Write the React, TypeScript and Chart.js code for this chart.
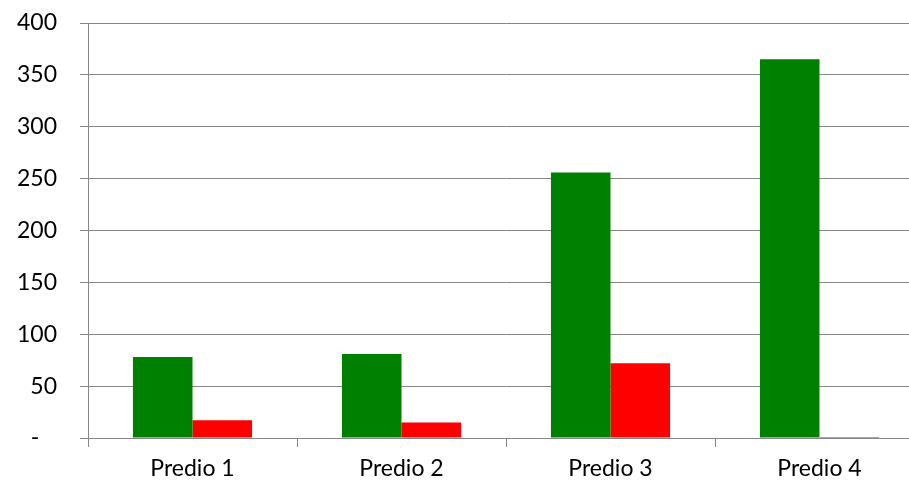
import React, { useEffect, useRef } from "react";
import { Chart, registerables } from "chart.js";

Chart.register(...registerables);

const categories = ["Predio 1", "Predio 2", "Predio 3", "Predio 4"];
const greenValues = [78, 81, 256, 365];
const redValues = [17, 15, 72, 1];
const yTicks = [0, 50, 100, 150, 200, 250, 300, 350, 400];

export default function App() {
  const ref = useRef<HTMLCanvasElement>(null);
  useEffect(() => {
    document.body.style.margin = "0";
    const ctx = ref.current!;
    const chart = new Chart(ctx, {
      type: "bar",
      data: {
        labels: categories,
        datasets: [
          { data: greenValues, backgroundColor: "#008000", borderWidth: 0 },
          { data: redValues, backgroundColor: "#FF0000", borderWidth: 0 },
        ],
      },
      options: {
        animation: false,
        responsive: false,
        maintainAspectRatio: false,
        layout: { padding: { top: 23, right: 1, left: 0, bottom: 0 } },
        datasets: { bar: { categoryPercentage: 0.57, barPercentage: 1 } },
        plugins: { legend: { display: false }, tooltip: { enabled: false } },
        scales: {
          x: {
            afterFit: (s: any) => {
              s.height = 44;
              s.paddingLeft = 0;
              s.paddingRight = 0;
            },
            grid: {
              offset: true,
              drawOnChartArea: false,
              color: "#868686",
              tickLength: 9,
            },
            border: { display: true, color: "#868686" },
            ticks: {
              color: "#000",
              font: { family: "Lato, 'Open Sans', sans-serif", size: 23 },
              padding: 8,
            },
          },
          y: {
            min: 0,
            max: 400,
            afterFit: (s: any) => {
              s.width = 88;
              s.paddingTop = 0;
              s.paddingBottom = 0;
            },
            afterBuildTicks: (axis: any) => {
              axis.ticks = yTicks.map((v) => ({ value: v }));
            },
            grid: { color: "#868686", tickLength: 8 },
            border: { display: true, color: "#868686" },
            ticks: {
              color: "#000",
              font: { family: "Lato, 'Open Sans', sans-serif", size: 23 },
              padding: 23,
              callback: (v: any) => (Number(v) === 0 ? "-   " : String(v)),
            },
          },
        },
      },
    });
    return () => chart.destroy();
  }, []);
  return (
    <div style={{ width: 909, height: 482, overflow: "hidden" }}>
      <canvas ref={ref} width={925} height={482} style={{ display: "block" }} />
    </div>
  );
}
